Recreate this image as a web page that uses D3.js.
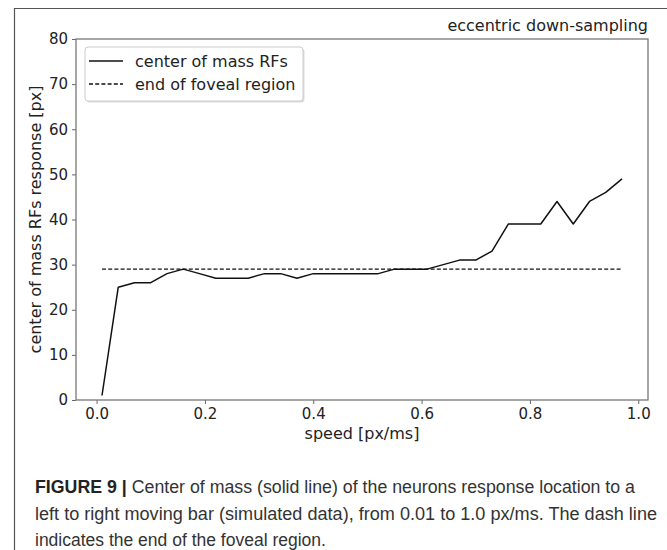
<!DOCTYPE html>
<html>
<head>
<meta charset="utf-8">
<script src="https://cdn.jsdelivr.net/npm/d3@7"></script>
<style>
  html, body { margin: 0; padding: 0; background: #fff; }
  svg { display: block; }
  .tick text { font-family: "DejaVu Sans", sans-serif; font-size: 15px; fill: #222; }
</style>
</head>
<body>
<svg id="chart" width="667" height="550"></svg>
<script>
// ---- data ----
const speeds = [0.01, 0.04, 0.07, 0.10, 0.13, 0.16, 0.19, 0.22, 0.25, 0.28, 0.31,
                0.34, 0.37, 0.40, 0.43, 0.46, 0.49, 0.52, 0.55, 0.58, 0.61, 0.64,
                0.67, 0.70, 0.73, 0.76, 0.79, 0.82, 0.85, 0.88, 0.91, 0.94, 0.97];
const centerOfMass = [1, 25, 26, 26, 28, 29, 28, 27, 27, 27, 28,
                      28, 27, 28, 28, 28, 28, 28, 29, 29, 29, 30,
                      31, 31, 33, 39, 39, 39, 44, 39, 44, 46, 49];
const fovealEnd = 29;
const xTicks = [0.0, 0.2, 0.4, 0.6, 0.8, 1.0];
const yTicks = [0, 10, 20, 30, 40, 50, 60, 70, 80];
const seriesLabels = ["center of mass RFs", "end of foveal region"];
const titleText = "eccentric down-sampling";
const xLabel = "speed [px/ms]";
const yLabel = "center of mass RFs response [px]";
const captionBold = "FIGURE 9 |";
const captionLines = [
  " Center of mass (solid line) of the neurons response location to a",
  "left to right moving bar (simulated data), from 0.01 to 1.0 px/ms. The dash line",
  "indicates the end of the foveal region."
];

// ---- layout ----
const svg = d3.select("#chart");
const plot = { left: 76, right: 648, top: 39, bottom: 400 };
const xMin = d3.min(speeds), xMax = d3.max(speeds);
const margin = (xMax - xMin) * 0.05;

const x = d3.scaleLinear().domain([xMin - margin, xMax + margin]).range([plot.left, plot.right]);
const y = d3.scaleLinear().domain([0, 80]).range([plot.bottom, plot.top]);

// outer figure frame
svg.append("line").attr("x1", 14.5).attr("x2", 14.5).attr("y1", 8).attr("y2", 550)
  .attr("stroke", "#555").attr("stroke-width", 1.2);
svg.append("line").attr("x1", 14).attr("x2", 667).attr("y1", 8.5).attr("y2", 8.5)
  .attr("stroke", "#555").attr("stroke-width", 1.2);

// axes
const xAxis = d3.axisBottom(x).tickValues(xTicks).tickFormat(d3.format(".1f")).tickSize(4).tickPadding(4);
const yAxis = d3.axisLeft(y).tickValues(yTicks).tickFormat(d3.format("d")).tickSize(4).tickPadding(4);

const gx = svg.append("g").attr("transform", `translate(0,${plot.bottom})`).call(xAxis);
const gy = svg.append("g").attr("transform", `translate(${plot.left},0)`).call(yAxis);
[gx, gy].forEach(g => {
  g.select(".domain").remove();
  g.selectAll(".tick line").attr("stroke", "#666").attr("stroke-width", 1);
});
gx.selectAll(".tick text").attr("dy", "0.71em");

// frame (spines)
svg.append("rect")
  .attr("x", plot.left).attr("y", plot.top)
  .attr("width", plot.right - plot.left).attr("height", plot.bottom - plot.top)
  .attr("fill", "none").attr("stroke", "#777").attr("stroke-width", 1.3);

// dashed foveal line
svg.append("line")
  .attr("x1", x(xMin)).attr("x2", x(xMax))
  .attr("y1", y(fovealEnd)).attr("y2", y(fovealEnd))
  .attr("stroke", "#111").attr("stroke-width", 1.4)
  .attr("stroke-dasharray", "4,2.2");

// solid line
const line = d3.line().x((d, i) => x(speeds[i])).y(d => y(d));
svg.append("path").datum(centerOfMass)
  .attr("d", line)
  .attr("fill", "none").attr("stroke", "#111").attr("stroke-width", 1.5)
  .attr("stroke-linejoin", "round");

// title
svg.append("text").attr("x", plot.right).attr("y", 31)
  .attr("text-anchor", "end")
  .style("font-family", "DejaVu Sans, sans-serif").style("font-size", "16px").attr("fill", "#222")
  .text(titleText);

// axis labels
svg.append("text").attr("x", (plot.left + plot.right) / 2).attr("y", 439)
  .attr("text-anchor", "middle")
  .style("font-family", "DejaVu Sans, sans-serif").style("font-size", "16px").attr("fill", "#222")
  .text(xLabel);
svg.append("text")
  .attr("transform", `translate(41,${(plot.top + plot.bottom) / 2}) rotate(-90)`)
  .attr("text-anchor", "middle")
  .style("font-family", "DejaVu Sans, sans-serif").style("font-size", "16px").attr("fill", "#222")
  .text(yLabel);

// legend
const lg = svg.append("g").attr("transform", "translate(85,47)");
lg.append("rect").attr("x", 1.5).attr("y", 1.5).attr("width", 218).attr("height", 54).attr("rx", 3)
  .attr("fill", "#ddd");
lg.append("rect").attr("x", 0).attr("y", 0).attr("width", 218).attr("height", 54).attr("rx", 3)
  .attr("fill", "#fff").attr("stroke", "#ccc").attr("stroke-width", 1);
seriesLabels.forEach((lab, i) => {
  const cy = 14 + i * 23;
  lg.append("line").attr("x1", 4).attr("x2", 38).attr("y1", cy).attr("y2", cy)
    .attr("stroke", "#111").attr("stroke-width", 1.4)
    .attr("stroke-dasharray", i === 1 ? "4,2.2" : null);
  lg.append("text").attr("x", 50).attr("y", cy).attr("dy", "0.35em")
    .style("font-family", "DejaVu Sans, sans-serif").style("font-size", "16px").attr("fill", "#222")
    .text(lab);
});

// caption
const capFont = "'Liberation Sans Narrow', 'Liberation Sans', Arial, sans-serif";
const capY = [493, 520, 546];
const capLen = [600, 622, null];
captionLines.forEach((t, i) => {
  const tx = svg.append("text").attr("x", 35).attr("y", capY[i])
    .style("font-family", capFont).style("font-size", "17.5px").attr("fill", "#333");
  if (capLen[i]) tx.attr("textLength", capLen[i]).attr("lengthAdjust", "spacingAndGlyphs");
  if (i === 0) {
    tx.append("tspan").style("font-weight", "bold").attr("fill", "#222").text(captionBold);
  }
  tx.append("tspan").text(t);
});
</script>
</body>
</html>
